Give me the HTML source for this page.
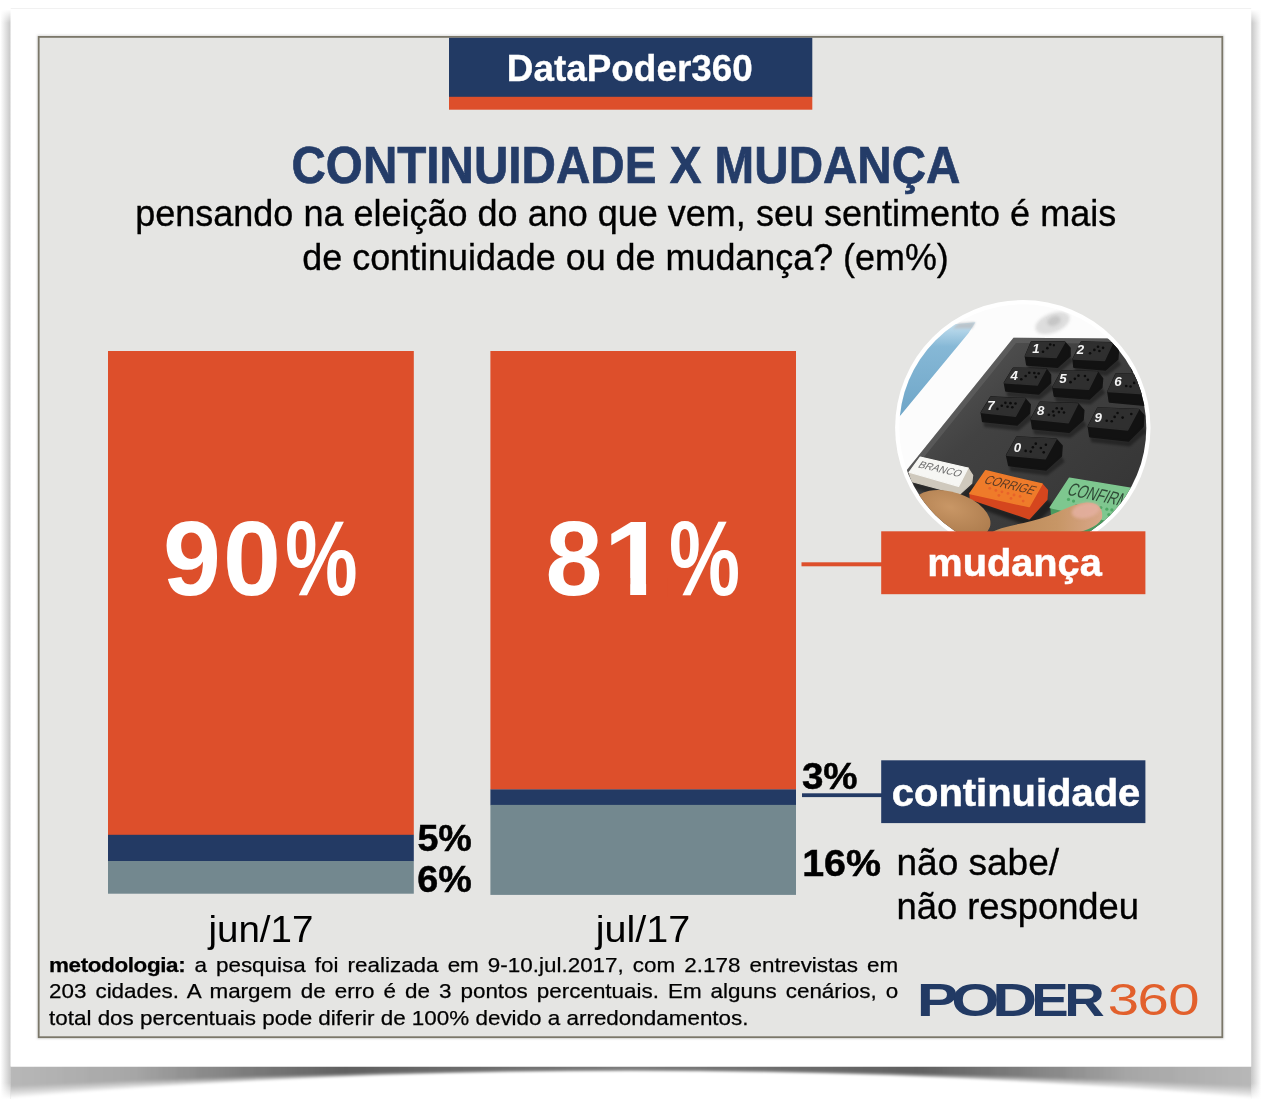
<!DOCTYPE html>
<html lang="pt-BR">
<head>
<meta charset="utf-8">
<title>DataPoder360 - Continuidade x Mudança</title>
<style>
html,body{margin:0;padding:0;background:#fff;}
body{width:1264px;height:1106px;position:relative;overflow:hidden;font-family:"Liberation Sans",sans-serif;}
svg{position:absolute;left:0;top:0;display:block;}
svg text{font-family:"Liberation Sans",sans-serif;}
.b{font-weight:bold;}
#met{position:absolute;left:48.5px;top:951.8px;-webkit-text-stroke:0.25px #000;width:772px;transform:scaleX(1.10);transform-origin:0 0;font-size:20.4px;line-height:26.6px;color:#000;}
#met div{white-space:nowrap;text-align:justify;text-align-last:justify;height:26.6px;}
#met div.last{text-align-last:left;}
#met b{letter-spacing:-0.34px;}
</style>
</head>
<body>
<svg width="1264" height="1106" viewBox="0 0 1264 1106">
<defs>
<filter id="blur6" x="-5%" y="-50%" width="110%" height="300%"><feGaussianBlur stdDeviation="0.9"/></filter>
<filter id="blur2" x="-20%" y="-20%" width="140%" height="140%"><feGaussianBlur stdDeviation="1.2"/></filter>
<linearGradient id="shl" x1="0" x2="1" y1="0" y2="0"><stop offset="0" stop-color="#fff"/><stop offset="1" stop-color="#c6c6c6"/></linearGradient>
<linearGradient id="shr" x1="0" x2="1" y1="0" y2="0"><stop offset="0" stop-color="#c6c6c6"/><stop offset="1" stop-color="#fff"/></linearGradient>
<linearGradient id="shv" x1="0" x2="0" y1="0" y2="1"><stop offset="0" stop-color="#fff" stop-opacity="1"/><stop offset="0.1" stop-color="#fff" stop-opacity="1"/><stop offset="1" stop-color="#fff" stop-opacity="0"/></linearGradient>
<linearGradient id="shfade" x1="0" x2="0" y1="0" y2="1"><stop offset="0" stop-color="#fff" stop-opacity="0"/><stop offset="0.7" stop-color="#fff" stop-opacity="1"/></linearGradient>
<linearGradient id="shb" x1="0" x2="1" y1="0" y2="0"><stop offset="0" stop-color="#000" stop-opacity="0.04"/><stop offset="0.1" stop-color="#000" stop-opacity="0.052"/><stop offset="0.27" stop-color="#000" stop-opacity="0.115"/><stop offset="0.5" stop-color="#000" stop-opacity="0.085"/><stop offset="0.73" stop-color="#000" stop-opacity="0.115"/><stop offset="0.9" stop-color="#000" stop-opacity="0.052"/><stop offset="1" stop-color="#000" stop-opacity="0.04"/></linearGradient>
<clipPath id="below"><rect x="10.7" y="1066.5" width="1240.4" height="40"/></clipPath>
<clipPath id="photo"><circle cx="1022.8" cy="427.8" r="123.5"/></clipPath>
<filter id="pb8" x="-30%" y="-30%" width="160%" height="160%"><feGaussianBlur stdDeviation="8"/></filter>
<filter id="pb1" x="-30%" y="-30%" width="160%" height="160%"><feGaussianBlur stdDeviation="1.5"/></filter>
<linearGradient id="blueG" x1="0" x2="0" y1="300" y2="1106" gradientUnits="userSpaceOnUse"><stop offset="0" stop-color="#c4e0f0"/><stop offset="0.25" stop-color="#86b8d6"/><stop offset="1" stop-color="#6fa6c8"/></linearGradient>
<linearGradient id="panelG" x1="940" y1="340" x2="1120" y2="540" gradientUnits="userSpaceOnUse"><stop offset="0" stop-color="#5a5a5a"/><stop offset="0.35" stop-color="#424242"/><stop offset="1" stop-color="#343434"/></linearGradient>
<radialGradient id="skinG" cx="0.45" cy="0.35" r="0.7"><stop offset="0" stop-color="#c99766"/><stop offset="1" stop-color="#a9784a"/></radialGradient>
<linearGradient id="skinG2" x1="0" x2="1" y1="0" y2="0"><stop offset="0" stop-color="#b88655"/><stop offset="0.6" stop-color="#c79666"/><stop offset="1" stop-color="#d9a78a"/></linearGradient>
</defs>
<!-- SHADOWS -->
<g id="shadows">
<rect x="0.5" y="9" width="10.2" height="1090" fill="url(#shl)"/>
<rect x="1251.1" y="9" width="10.2" height="1090" fill="url(#shr)"/>
<rect x="0" y="8" width="1264" height="15" fill="url(#shv)"/>
<rect x="0" y="1083" width="10.7" height="23" fill="url(#shfade)"/>
<rect x="1251.1" y="1083" width="13" height="23" fill="url(#shfade)"/>
<g clip-path="url(#below)" fill="url(#shb)" filter="url(#blur6)">
<path d="M9,1060 L1253,1060 L1253,1086.4 Q631,1052.9 9,1086.4 Z"/>
<path d="M9,1060 L1253,1060 L1253,1088.1 Q631,1051.8 9,1088.1 Z"/>
<path d="M9,1060 L1253,1060 L1253,1089.7 Q631,1050.6 9,1089.7 Z"/>
<path d="M9,1060 L1253,1060 L1253,1091.4 Q631,1049.5 9,1091.4 Z"/>
<path d="M9,1060 L1253,1060 L1253,1093.0 Q631,1048.4 9,1093.0 Z"/>
<path d="M9,1060 L1253,1060 L1253,1094.7 Q631,1047.3 9,1094.7 Z"/>
<path d="M9,1060 L1253,1060 L1253,1096.3 Q631,1046.1 9,1096.3 Z"/>
<path d="M9,1060 L1253,1060 L1253,1098.0 Q631,1045.0 9,1098.0 Z"/>
</g>
</g>
<!-- CARD -->
<rect x="10.7" y="8" width="1240.5" height="1058.5" fill="#fff"/>
<rect x="10.7" y="8" width="1240.5" height="1" fill="#f1f1f1"/>
<!-- PANEL -->
<rect x="37" y="35" width="1187" height="1004" fill="#bbb" opacity="0.5" filter="url(#blur2)"/>
<rect x="38.7" y="36.9" width="1183.6" height="1000.3" fill="#e5e5e3" stroke="#7b7769" stroke-width="1.8"/>
<!-- HEADER BADGE -->
<rect x="449" y="37.8" width="363.3" height="59.2" fill="#223a64"/>
<rect x="449" y="96.8" width="363.3" height="12.9" fill="#dd4f2b"/>
<text class="b" x="506.8" y="80.6" font-size="36.5" fill="#fff" stroke="#fff" stroke-width="0.3" textLength="246" lengthAdjust="spacingAndGlyphs">DataPoder360</text>
<!-- TITLES -->
<text class="b" x="291.5" y="183.3" font-size="52" fill="#243c68" stroke="#243c68" stroke-width="0.7" textLength="669" lengthAdjust="spacingAndGlyphs">CONTINUIDADE X MUDANÇA</text>
<text x="135.2" y="226.4" font-size="37.5" fill="#000" stroke="#000" stroke-width="0.35" textLength="981" lengthAdjust="spacingAndGlyphs">pensando na eleição do ano que vem, seu sentimento é mais</text>
<text x="302.3" y="270.2" font-size="37.5" fill="#000" stroke="#000" stroke-width="0.35" textLength="646.5" lengthAdjust="spacingAndGlyphs">de continuidade ou de mudança? (em%)</text>
<!-- BARS -->
<rect x="108" y="351" width="305.8" height="484" fill="#dd4f2b"/>
<rect x="108" y="834.8" width="305.8" height="26.4" fill="#233a64"/>
<rect x="108" y="861" width="305.8" height="32.7" fill="#73888f"/>
<rect x="490.4" y="351" width="305.6" height="438.6" fill="#dd4f2b"/>
<rect x="490.4" y="789.4" width="305.6" height="15.8" fill="#233a64"/>
<rect x="490.4" y="804.9" width="305.6" height="90" fill="#73888f"/>
<!-- BIG NUMBERS -->
<text class="b" transform="translate(163,595) scale(0.982,1)" x="0 61.2" y="0" font-size="106" fill="#fff">90</text><text class="b" transform="translate(285,595) scale(0.771,1)" font-size="106" fill="#fff">%</text>
<text class="b" transform="translate(545.6,595.3) scale(0.966,1)" font-size="106" fill="#fff">8</text><text class="b" transform="translate(603.5,595.3) scale(1.08,1)" font-size="106" fill="#fff">1</text><rect x="606" y="578" width="24.2" height="19" fill="#dd4f2b"/><rect x="646.1" y="578" width="21" height="19" fill="#dd4f2b"/><text class="b" transform="translate(669,595.3) scale(0.754,1)" font-size="106" fill="#fff">%</text>
<!-- SMALL PERCENTS -->
<text class="b" x="417.4" y="851" font-size="36.5" fill="#000" stroke="#000" stroke-width="0.5" textLength="54.5" lengthAdjust="spacingAndGlyphs">5%</text>
<text class="b" x="417.2" y="892.1" font-size="36.5" fill="#000" stroke="#000" stroke-width="0.5" textLength="54.5" lengthAdjust="spacingAndGlyphs">6%</text>
<text class="b" x="801.9" y="788.9" font-size="36.5" fill="#000" stroke="#000" stroke-width="0.5" textLength="55.7" lengthAdjust="spacingAndGlyphs">3%</text>
<text class="b" x="802.2" y="876.3" font-size="36.5" fill="#000" stroke="#000" stroke-width="0.5" textLength="78.8" lengthAdjust="spacingAndGlyphs">16%</text>
<!-- LEGEND -->
<rect x="801.5" y="562.3" width="82" height="4" fill="#dd4f2b"/>
<rect x="802" y="793.3" width="82" height="3.8" fill="#233a64"/>
<rect x="881.2" y="760.3" width="264.2" height="62.8" fill="#233a64"/>
<text class="b" x="891.8" y="806" font-size="39" fill="#fff" stroke="#fff" stroke-width="0.5" textLength="248.5" lengthAdjust="spacingAndGlyphs">continuidade</text>
<text x="896.5" y="875.2" font-size="36.5" fill="#000" stroke="#000" stroke-width="0.35" textLength="162.5" lengthAdjust="spacingAndGlyphs">não sabe/</text>
<text x="896.5" y="918.6" font-size="36.5" fill="#000" stroke="#000" stroke-width="0.35" textLength="242.5" lengthAdjust="spacingAndGlyphs">não respondeu</text>
<!-- AXIS LABELS -->
<text x="208.4" y="941.6" font-size="36" fill="#000" textLength="105" lengthAdjust="spacingAndGlyphs">jun/17</text>
<text x="595.7" y="941.6" font-size="36" fill="#000" textLength="94.5" lengthAdjust="spacingAndGlyphs">jul/17</text>
<!-- LOGO -->
<text class="b" transform="scale(1.36,1)" x="674 699.5 729.6" y="1015.8" font-size="45.6" fill="#223a64">POD</text><text class="b" transform="scale(1.23,1)" x="838.4 865.2" y="1015.8" font-size="45.6" fill="#223a64">ER</text>
<text transform="scale(1.25,1)" x="886.3 910.1 934.6" y="1015" font-size="45" fill="#e2602c">360</text>
<!-- PHOTO -->
<circle cx="1022.8" cy="427.8" r="127.7" fill="#fff"/>
<g clip-path="url(#photo)" id="photoG">
<rect x="885" y="290" width="280" height="260" fill="#fcfcfc"/>
<!-- blue reflection -->
<g transform="translate(885,290) scale(0.11299)">
<path d="M640,300 L800,285 L740,380 L140,1106 L0,1250 L0,300 Z" fill="url(#blueG)"/>
<path d="M600,340 L650,295 L800,283 L770,340 Z" fill="#b9bec2" opacity="0.8" filter="url(#pb8)"/>
</g>
<!-- emblem -->
<ellipse cx="1052.5" cy="323" rx="18" ry="9.5" fill="#c4c4c4" opacity="0.55" filter="url(#pb1)" transform="rotate(-22 1052.5 323)"/><ellipse cx="1054" cy="321" rx="7" ry="4.5" fill="#aaa" opacity="0.45" filter="url(#pb1)" transform="rotate(-22 1054 321)"/>
<!-- panel -->
<path d="M1013.5,337.7 L1170,339 L1170,560 L860,560 L860,528 Z" fill="url(#panelG)"/>
<path d="M1013.5,337.7 L1170,339 L1170,344 L1016,343 L870,524 L860,528 Z" fill="#777" opacity="0.35"/>
<!-- keys -->
<g transform="translate(975,325) scale(0.1447)" stroke-linejoin="round">
<g fill="#000" opacity="0.35" filter="url(#pb8)">
<path d="M360,275 L570,290 L655,215 L680,250 L580,330 L370,310 Z"/>
<path d="M215,455 L440,475 L520,400 L545,440 L450,515 L225,495 Z"/>
<path d="M550,490 L790,510 L875,430 L900,470 L800,550 L560,530 Z"/>
<path d="M55,665 L290,690 L375,610 L400,650 L300,730 L65,705 Z"/>
<path d="M400,715 L650,740 L745,655 L770,695 L660,780 L410,755 Z"/>
<path d="M795,770 L1060,800 L1160,700 L1185,740 L1070,840 L805,810 Z"/>
<path d="M235,970 L490,1000 L595,905 L620,945 L500,1040 L245,1010 Z"/>
<path d="M685,290 L900,310 L985,235 L1010,275 L910,350 L695,330 Z"/>
</g>
<g fill="#121212" stroke="#121212" stroke-width="14">
<path d="M390,120 L620,120 L655,160 L655,215 L570,290 L360,275 L350,215 Z"/>
<path d="M735,120 L950,125 L990,165 L985,235 L900,310 L685,290 L680,235 Z"/>
<path d="M265,300 L490,305 L520,345 L520,400 L440,475 L215,455 L205,400 Z"/>
<path d="M600,320 L845,325 L880,370 L875,430 L790,510 L550,490 L540,430 Z"/>
<path d="M975,340 L1250,345 L1250,560 L930,530 L920,460 Z"/>
<path d="M110,500 L345,510 L380,550 L375,610 L290,690 L55,665 L45,605 Z"/>
<path d="M450,535 L710,545 L750,590 L745,655 L650,740 L400,715 L390,650 Z"/>
<path d="M850,575 L1130,585 L1165,625 L1160,700 L1060,800 L795,770 L785,700 Z"/>
<path d="M290,775 L560,790 L600,835 L595,905 L490,1000 L235,970 L220,900 Z"/>
<path d="M1060,240 L1250,250 L1250,330 L1090,320 Z"/>
</g>
<g fill="#2f2f2f" stroke="#2f2f2f" stroke-width="10">
<path d="M390,120 L620,120 L560,225 L350,215 Z"/>
<path d="M735,120 L950,125 L895,245 L680,235 Z"/>
<path d="M265,300 L490,305 L430,415 L205,400 Z"/>
<path d="M600,320 L845,325 L785,445 L540,430 Z"/>
<path d="M975,340 L1250,345 L1250,480 L920,460 Z"/>
<path d="M110,500 L345,510 L280,630 L45,605 Z"/>
<path d="M450,535 L710,545 L645,675 L390,650 Z"/>
<path d="M850,575 L1130,585 L1055,725 L785,700 Z"/>
<path d="M290,775 L560,790 L485,925 L220,900 Z"/>
</g>
<g fill="#f4f4f4" font-size="92" font-weight="bold" font-style="italic" font-family="'Liberation Sans',sans-serif">
<text x="395" y="192">1</text>
<text x="703" y="203">2</text>
<text x="245" y="378">4</text>
<text x="582" y="400">5</text>
<text x="962" y="425">6</text>
<text x="85" y="588">7</text>
<text x="428" y="625">8</text>
<text x="825" y="668">9</text>
<text x="268" y="875">0</text>
</g>
<g fill="#0c0c0c">
<circle cx="470" cy="185" r="9"/><circle cx="500" cy="160" r="9"/><circle cx="520" cy="135" r="9"/><circle cx="545" cy="140" r="8"/>
<circle cx="795" cy="195" r="9"/><circle cx="825" cy="172" r="9"/><circle cx="850" cy="150" r="9"/><circle cx="860" cy="180" r="9"/><circle cx="885" cy="158" r="9"/>
<circle cx="320" cy="375" r="9"/><circle cx="350" cy="352" r="9"/><circle cx="375" cy="330" r="9"/><circle cx="410" cy="332" r="9"/><circle cx="440" cy="335" r="9"/><circle cx="420" cy="360" r="9"/>
<circle cx="660" cy="395" r="9"/><circle cx="690" cy="372" r="9"/><circle cx="715" cy="350" r="9"/><circle cx="760" cy="352" r="9"/><circle cx="780" cy="378" r="9"/>
<circle cx="1045" cy="422" r="9"/><circle cx="1075" cy="425" r="9"/><circle cx="1100" cy="400" r="9"/>
<circle cx="155" cy="580" r="9"/><circle cx="185" cy="558" r="9"/><circle cx="210" cy="538" r="9"/><circle cx="245" cy="540" r="9"/><circle cx="280" cy="542" r="9"/><circle cx="225" cy="565" r="9"/><circle cx="258" cy="568" r="9"/>
<circle cx="510" cy="620" r="9"/><circle cx="540" cy="598" r="9"/><circle cx="565" cy="575" r="9"/><circle cx="600" cy="578" r="9"/><circle cx="580" cy="602" r="9"/><circle cx="615" cy="605" r="9"/><circle cx="545" cy="625" r="9"/>
<circle cx="910" cy="662" r="9"/><circle cx="945" cy="665" r="9"/><circle cx="965" cy="635" r="9"/><circle cx="985" cy="608" r="9"/><circle cx="1020" cy="640" r="9"/><circle cx="1080" cy="615" r="9"/>
<circle cx="350" cy="870" r="9"/><circle cx="385" cy="875" r="9"/><circle cx="400" cy="845" r="9"/><circle cx="420" cy="820" r="9"/><circle cx="455" cy="850" r="9"/><circle cx="490" cy="828" r="9"/><circle cx="475" cy="880" r="9"/>
</g>
</g>
<!-- bottom keys + fingers -->
<g transform="translate(895,445) scale(0.20174)" stroke-linejoin="round">
<path d="M85,180 L320,250 L385,190 L420,215 L330,290 L95,215 Z" fill="#000" opacity="0.4" filter="url(#pb8)"/>
<path d="M375,265 L665,365 L752,270 L790,300 L680,410 L380,300 Z" fill="#000" opacity="0.45" filter="url(#pb8)"/>
<!-- branco -->
<path d="M70,135 L315,205 L362,114 L385,150 L380,190 L320,245 L85,182 Z" fill="#cfc9bd" stroke="#cfc9bd" stroke-width="6"/>
<path d="M125,60 L362,114 L315,205 L70,135 Z" fill="#f6f6f3" stroke="#f6f6f3" stroke-width="6"/>
<text x="0" y="0" transform="translate(110,110) rotate(13) skewX(-22)" font-size="50" fill="#6a6a6a" font-family="'Liberation Sans',sans-serif" textLength="215" lengthAdjust="spacingAndGlyphs">BRANCO</text>
<!-- corrige -->
<path d="M372,240 L665,305 L728,194 L755,225 L752,270 L665,365 L375,268 Z" fill="#d5461e" stroke="#d5461e" stroke-width="8"/>
<path d="M450,128 L728,194 L665,305 L372,240 Z" fill="#ef7b2a" stroke="#ef7b2a" stroke-width="8"/>
<text x="0" y="0" transform="translate(436,188) rotate(13.5) skewX(-22)" font-size="64" fill="#5b3a24" font-family="'Liberation Sans',sans-serif" textLength="252" lengthAdjust="spacingAndGlyphs">CORRIGE</text>
<g fill="#e8622a">
<circle cx="470" cy="215" r="7"/><circle cx="500" cy="225" r="7"/><circle cx="530" cy="232" r="7"/><circle cx="560" cy="240" r="7"/><circle cx="590" cy="248" r="7"/><circle cx="620" cy="255" r="7"/><circle cx="515" cy="250" r="7"/><circle cx="575" cy="265" r="7"/><circle cx="635" cy="278" r="7"/>
</g>
<!-- confirma -->
<path d="M770,310 L1040,370 L1250,380 L1250,440 L780,440 Z" fill="#4a9a5e"/>
<path d="M865,165 L1250,228 L1250,380 L1040,370 L770,310 Z" fill="#7ec78f" stroke="#7ec78f" stroke-width="8"/>
<text x="0" y="0" transform="translate(848,245) rotate(12) skewX(-16)" font-size="92" fill="#2f4a36" font-family="'Liberation Sans',sans-serif" textLength="345" lengthAdjust="spacingAndGlyphs">CONFIRMA</text>
<g fill="#4fa866">
<circle cx="860" cy="270" r="8"/><circle cx="885" cy="278" r="8"/><circle cx="900" cy="300" r="8"/><circle cx="1020" cy="310" r="8"/><circle cx="1050" cy="318" r="8"/><circle cx="1075" cy="322" r="8"/><circle cx="1060" cy="345" r="8"/>
</g>
<!-- fingers -->
<ellipse cx="280" cy="345" rx="200" ry="110" transform="rotate(18 280 345)" fill="url(#skinG)"/>
<path d="M470,440 C520,400 640,395 760,352 C840,320 890,290 950,285 C1010,285 1035,320 1025,365 C1000,410 930,430 860,445 Z" fill="url(#skinG2)"/>
<ellipse cx="945" cy="325" rx="70" ry="38" transform="rotate(-12 945 325)" fill="#e4b0a0" opacity="0.85" filter="url(#pb8)"/>
</g>
</g>
<!-- redraw mudança box over photo -->
<rect x="881.2" y="531.3" width="264.2" height="62.9" fill="#dd4f2b"/>
<text class="b" x="927.3" y="575.5" font-size="39" fill="#fff" stroke="#fff" stroke-width="0.5" textLength="174.5" lengthAdjust="spacingAndGlyphs">mudança</text>
</svg>
<div id="met">
<div><b>metodologia:</b> a pesquisa foi realizada em 9-10.jul.2017, com 2.178 entrevistas em</div>
<div>203 cidades. A margem de erro é de 3 pontos percentuais. Em alguns cenários, o</div>
<div class="last">total dos percentuais pode diferir de 100% devido a arredondamentos.</div>
</div>
</body>
</html>
